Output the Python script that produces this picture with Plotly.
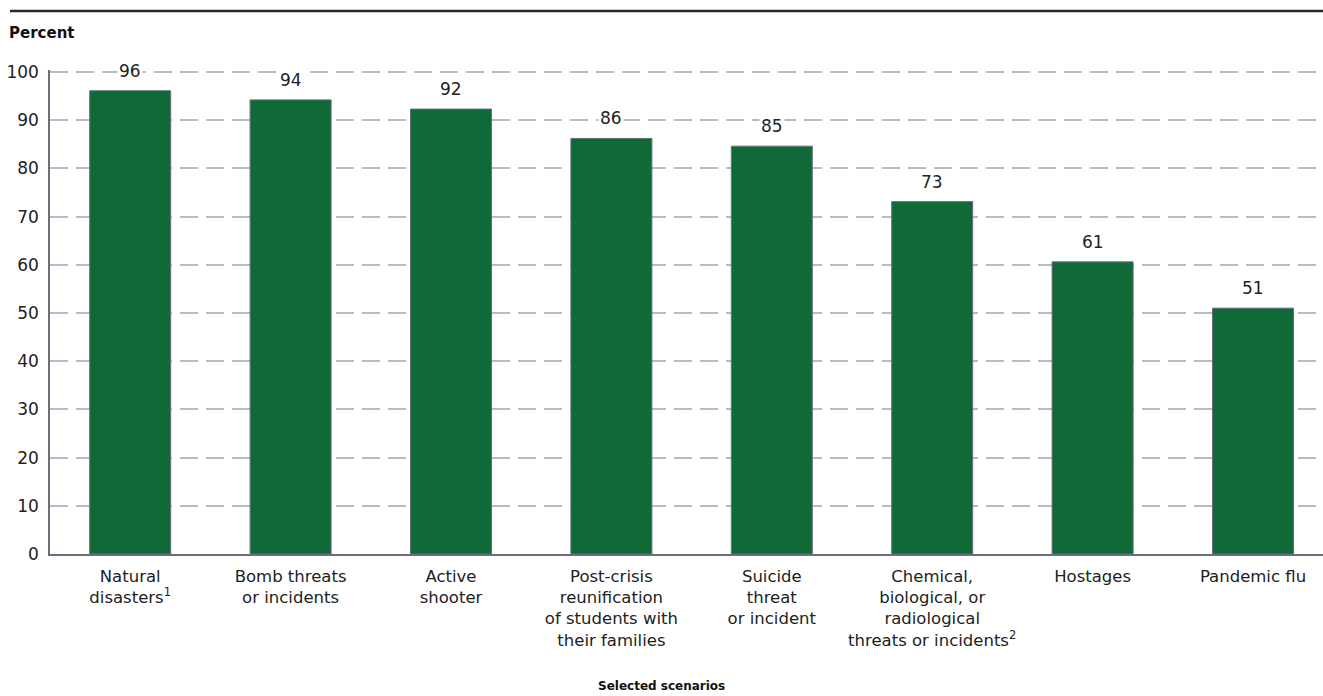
import plotly.graph_objects as go

categories = [
    "Natural<br>disasters<sup>1</sup>",
    "Bomb threats<br>or incidents",
    "Active<br>shooter",
    "Post-crisis<br>reunification<br>of students with<br>their families",
    "Suicide<br>threat<br>or incident",
    "Chemical,<br>biological, or<br>radiological<br>threats or incidents<sup>2</sup>",
    "Hostages",
    "Pandemic flu",
]
values = [96.1, 94.2, 92.3, 86.2, 84.6, 73.1, 60.6, 51.0]
value_labels = ["96", "94", "92", "86", "85", "73", "61", "51"]
y_ticks = [0, 10, 20, 30, 40, 50, 60, 70, 80, 90, 100]

FONT = "'DejaVu Sans', sans-serif"
W, H = 1323, 696
ML, MR, MT, MB = 50, 0, 70, 142
PW, PH = W - ML - MR, H - MT - MB
Y_MAX = 100.4

fig = go.Figure()
fig.add_trace(go.Bar(
    x=list(range(len(categories))),
    y=values,
    marker=dict(color="#0f6a38", line=dict(color="#6b6e7a", width=1)),
    hoverinfo="skip",
))

for i, (v, lab) in enumerate(zip(values, value_labels)):
    fig.add_annotation(
        x=i, y=v, text=lab, showarrow=False, yanchor="middle", yshift=20,
        font=dict(family=FONT, size=17, color="#222222"),
        bgcolor="white", borderpad=1,
    )

def px_x(p):
    return (p - ML) / PW

def px_y(p):
    return (H - MB - p) / PH

fig.add_shape(type="line", xref="paper", yref="paper",
              x0=px_x(10), x1=px_x(W), y0=px_y(11), y1=px_y(11),
              line=dict(color="#2a2a2a", width=2.5))

fig.add_annotation(xref="paper", yref="paper", x=px_x(7), y=px_y(33),
                   xanchor="left", yanchor="middle", showarrow=False,
                   text="<b>Percent</b>", font=dict(family=FONT, size=15, color="#111111"))
fig.add_annotation(xref="paper", yref="paper", x=px_x(661), y=px_y(686),
                   xanchor="center", yanchor="middle", showarrow=False,
                   text="<b>Selected scenarios</b>", font=dict(family=FONT, size=12, color="#111111"))

n = len(categories)
fig.update_layout(
    width=W, height=H,
    margin=dict(l=ML, r=MR, t=MT, b=MB, pad=0),
    plot_bgcolor="white", paper_bgcolor="white",
    bargap=0.495,
    showlegend=False,
    font=dict(family=FONT, size=16, color="#222222"),
    xaxis=dict(
        range=[-0.5, -0.5 + PW / 160.4],
        tickmode="array", tickvals=list(range(n)), ticktext=categories,
        showgrid=False, showline=True, linecolor="#6b6e7a", linewidth=1.5,
        ticks="", ticklabelstandoff=6,
        tickfont=dict(family=FONT, size=16.5, color="#222222"),
        fixedrange=True,
    ),
    yaxis=dict(
        range=[0, Y_MAX], tickmode="array", tickvals=y_ticks,
        showgrid=True, gridcolor="#b9bac2", gridwidth=1.5, griddash="18px,8px",
        showline=True, linecolor="#6b6e7a", linewidth=1.5,
        ticks="", ticklabelstandoff=6,
        tickfont=dict(family=FONT, size=17, color="#222222"),
        zeroline=False, fixedrange=True,
    ),
)

fig.write_html("out.html", config={"displayModeBar": False},
               post_script="document.body.style.margin='0';document.body.style.padding='0';")
